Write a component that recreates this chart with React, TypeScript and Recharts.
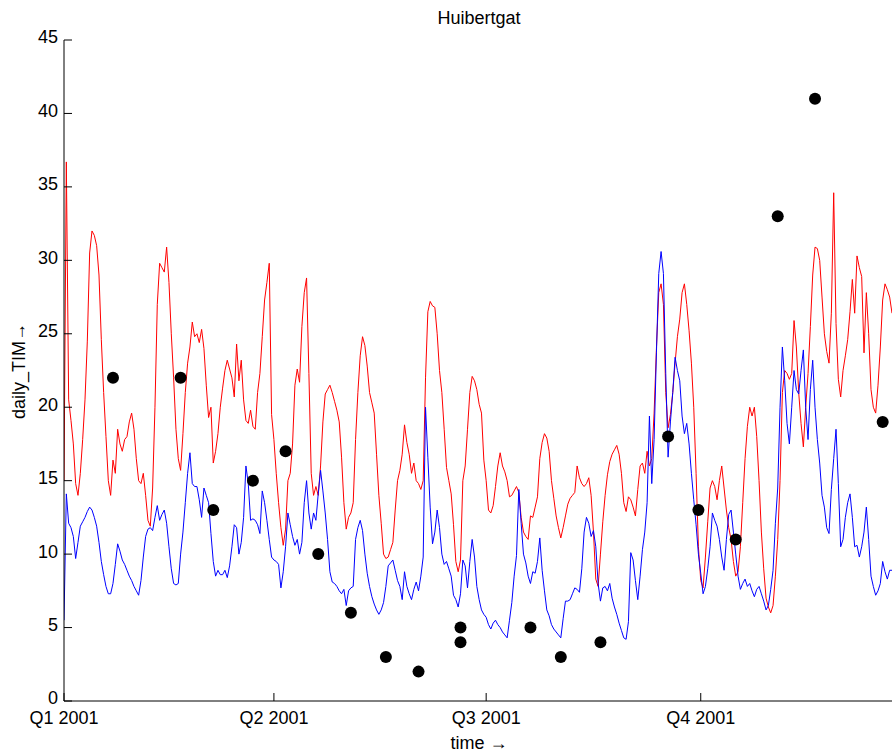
import { ComposedChart, Line, Scatter, XAxis, YAxis } from "recharts";

// daily values, index = day of 2001 (0 = 1 Jan)
const redValues = [
  15, 36.7, 20.5, 19.1, 17.5, 14.8, 14.0, 15.5, 17.8, 20.5,
  24.5, 30.5, 32.0, 31.7, 31.0, 29.0, 24.6, 21.0, 18.0, 15.0,
  14.0, 16.4, 15.5, 18.5, 17.5, 17.0, 17.8, 18.0, 19.0, 19.6,
  18.5, 16.5, 15.0, 14.8, 15.5, 14.0, 12.3, 11.9, 14.5, 20.0,
  27.0, 29.8, 29.5, 29.2, 30.9, 28.5, 25.0, 22.0, 18.5, 16.5,
  15.7, 18.2, 21.0, 23.0, 24.1, 25.8, 24.8, 25.0, 24.4, 25.3,
  24.0, 21.5, 19.3, 20.0, 16.2, 17.0, 18.2, 20.0, 21.3, 22.5,
  23.2, 22.6, 22.0, 20.7, 24.3, 21.8, 23.2, 20.5, 19.1, 18.9,
  19.8, 18.7, 18.5, 21.0, 22.3, 24.8, 27.3, 28.5, 29.8, 19.5,
  17.8, 15.5, 13.5, 11.8, 10.6, 11.7, 15.0, 15.5, 17.5, 21.5,
  22.6, 21.7, 25.5, 27.8, 28.8, 22.3, 15.5, 14.0, 14.6, 14.0,
  16.0, 19.0, 20.9, 21.2, 21.5, 21.0, 20.4, 19.8, 19.0, 16.6,
  13.5, 11.7, 12.5, 12.8, 13.5, 17.8, 21.0, 23.5, 24.8, 24.2,
  22.8, 21.0, 20.3, 19.6, 16.8, 14.0, 12.1, 10.0, 9.7, 9.8,
  10.3, 10.8, 13.0, 15.0, 15.7, 16.8, 18.8, 17.6, 16.8, 15.5,
  16.2, 15.0, 14.8, 14.4, 15.0, 22.0, 26.5, 27.2, 26.9, 26.8,
  25.0, 22.5, 21.0, 18.5, 15.9, 15.0, 14.1, 12.0, 9.5, 8.8,
  9.6, 15.0, 16.0, 18.5, 21.0, 22.1, 21.8, 21.2, 20.2, 19.6,
  16.4, 15.0, 13.0, 12.8, 13.3, 14.6, 16.0, 16.9, 16.0, 15.6,
  15.0, 13.9, 14.0, 14.3, 14.6, 14.2, 12.5, 11.5, 11.2, 11.0,
  12.6, 12.5, 13.2, 13.9, 16.5, 17.6, 18.2, 17.9, 17.0, 15.0,
  13.8, 12.6, 11.8, 11.1, 11.8, 12.6, 13.4, 13.8, 14.0, 14.2,
  16.0, 15.2, 14.8, 14.6, 14.8, 15.2, 14.0, 11.5, 8.3, 7.8,
  10.0, 12.2, 14.0, 15.4, 16.3, 16.8, 17.1, 17.4, 16.8, 15.5,
  13.5, 12.9, 13.9, 13.7, 13.2, 12.6, 14.4, 16.0, 16.2, 15.5,
  17.0, 16.0, 16.5, 19.6, 24.0, 27.8, 28.4, 27.0, 21.0, 18.6,
  19.5, 21.0, 23.0, 24.8, 26.0, 27.8, 28.4, 27.0, 25.2, 23.0,
  20.0, 15.5, 10.5, 8.2, 7.7, 9.8, 12.2, 14.5, 15.0, 14.6,
  13.7, 15.0, 16.0, 14.5, 13.0, 11.8, 11.0, 9.5, 8.5, 8.8,
  10.5, 13.5, 16.5, 18.7, 20.0, 19.4, 20.0, 18.0, 15.0, 11.5,
  9.0, 7.0, 6.4, 6.0, 6.5, 8.5, 11.0, 15.0, 21.0, 22.5,
  22.3, 21.9, 22.3, 25.9, 24.1, 21.0, 18.9, 17.3, 20.0, 22.3,
  25.5, 29.0, 30.9, 30.8, 30.0, 27.5, 25.0, 23.8, 23.0, 26.4,
  34.6, 25.7, 21.9, 20.7, 22.5, 23.5, 24.6, 26.5, 28.7, 26.4,
  30.3, 29.5, 28.9, 23.7, 27.8, 25.0, 21.2, 20.0, 19.6, 21.5,
  24.1, 27.3, 28.4, 28.0, 27.5, 26.4,
];

const blueValues = [
  5.5, 14.1, 12.1, 11.8, 11.2, 9.7, 10.8, 11.9, 12.2, 12.5,
  12.9, 13.2, 13.0, 12.5, 11.9, 10.8, 9.5, 8.6, 7.8, 7.3,
  7.3, 8.0, 9.3, 10.7, 10.2, 9.6, 9.3, 8.9, 8.5, 8.2,
  7.8, 7.5, 7.2, 8.2, 9.8, 11.2, 11.7, 11.8, 11.6, 12.5,
  13.3, 12.3, 12.7, 13.0, 12.1, 10.5, 9.0, 8.0, 7.9, 8.0,
  10.0, 11.5, 13.5, 15.5, 16.9, 14.8, 14.6, 14.6, 13.7, 12.5,
  14.5, 14.0, 13.5, 11.4, 9.5, 8.5, 8.9, 8.6, 8.6, 8.9,
  8.4, 9.2, 10.5, 12.0, 11.8, 10.0, 10.8, 12.5, 16.0, 14.8,
  12.3, 12.4, 12.3, 12.0, 11.4, 14.3, 13.5, 12.3, 11.0, 9.8,
  9.6, 9.5, 9.3, 7.7, 8.8, 10.5, 12.8, 12.0, 11.2, 10.6,
  11.0, 10.0, 10.8, 13.5, 15.0, 12.8, 11.7, 12.8, 12.3, 14.1,
  15.7, 14.3, 12.8, 11.0, 8.8, 8.1, 8.0, 7.8, 7.5, 7.3,
  7.6, 6.5, 7.5, 7.7, 7.8, 11.0, 11.8, 12.3, 11.6, 10.0,
  8.7, 7.8, 7.1, 6.6, 6.2, 5.9, 6.2, 6.7, 7.8, 9.2,
  9.4, 9.6, 8.9, 8.2, 7.8, 6.9, 8.8, 7.8, 7.3, 6.9,
  7.6, 8.1, 7.5, 8.5, 9.8, 20.0, 16.6, 13.2, 10.7, 11.5,
  13.0, 11.8, 10.0, 9.3, 9.5, 9.0, 8.5, 7.2, 6.9, 6.4,
  7.3, 9.6, 9.2, 7.7, 9.5, 11.0, 9.8, 7.8, 6.9, 6.2,
  5.9, 5.7, 5.2, 4.9, 5.3, 5.5, 5.2, 5.0, 4.7, 4.5,
  4.3, 5.5, 6.7, 8.5, 9.9, 14.4, 12.1, 10.0, 9.4, 8.5,
  8.0, 8.8, 8.7, 9.5, 11.1, 8.9, 7.5, 6.2, 5.8, 5.2,
  4.9, 4.7, 4.5, 4.3, 5.6, 6.8, 6.8, 6.9, 7.3, 7.7,
  7.6, 7.4, 9.0, 11.5, 12.5, 12.1, 11.2, 11.6, 10.5, 8.0,
  6.8, 7.7, 7.8, 7.5, 8.0, 7.0, 6.4, 5.9, 5.3, 4.8,
  4.3, 4.2, 5.4, 10.1, 9.6, 8.2, 6.9, 8.5, 10.3, 11.5,
  13.5, 19.4, 14.8, 17.8, 23.7, 29.1, 30.6, 29.1, 22.3, 16.6,
  19.0, 21.0, 23.4, 22.5, 21.8, 19.4, 18.2, 18.9, 17.5, 15.5,
  13.7, 12.0, 10.0, 8.7, 7.3, 7.8, 9.0, 10.5, 12.8, 12.3,
  11.9, 11.0, 9.8, 8.9, 11.0, 12.7, 13.0, 11.5, 10.0, 8.5,
  7.6, 8.0, 8.3, 7.8, 8.0, 7.5, 7.1, 7.6, 7.8, 7.3,
  6.8, 6.2, 6.5, 7.6, 8.9, 12.1, 14.5, 20.0, 24.1, 21.8,
  18.9, 17.5, 20.0, 22.5, 21.2, 20.9, 22.5, 23.9, 20.0, 17.8,
  21.2, 23.2, 20.0, 17.8, 16.2, 14.0, 13.2, 11.8, 11.4, 14.4,
  16.5, 18.5, 14.8, 10.5, 11.0, 12.5, 13.5, 14.1, 12.5, 10.5,
  10.6, 9.8, 10.5, 11.5, 13.2, 11.0, 8.5, 7.8, 7.2, 7.5,
  8.0, 9.5, 8.8, 8.3, 8.9, 8.9,
];

// observations (black dots)
const obsDays = [21, 50, 64, 81, 95, 109, 123, 138, 152, 170, 170, 200, 213, 230, 259, 272, 288, 306, 322, 351];
const obsValues = [22, 22, 13, 15, 17, 10, 6, 3, 2, 5, 4, 5, 3, 4, 18, 13, 11, 33, 41, 19];

const quarterDays = [0, 90, 181, 273];
const quarterLabels = ["Q1 2001", "Q2 2001", "Q3 2001", "Q4 2001"];
const yTicks = [0, 5, 10, 15, 20, 25, 30, 35, 40, 45];

const redData = redValues.map((v, i) => ({ day: i, tim: v }));
const blueData = blueValues.map((v, i) => ({ day: i, tim: v }));
const obsData = obsDays.map((d, i) => ({ day: d, tim: obsValues[i] }));

const font = '"Liberation Sans", Arial, sans-serif';
const tickStyle = { fill: "#000", fontSize: 18, fontFamily: font };

const Dot = (props: any) => <circle cx={props.cx} cy={props.cy} r={6} fill="#000" />;

export default function App() {
  return (
    <div style={{ position: "absolute", left: 0, top: 0, width: 893, height: 754, background: "#fff", fontFamily: font, color: "#000" }}>
      <ComposedChart width={893} height={754} margin={{ top: 40, right: 1, bottom: 0, left: 4 }}>
        <XAxis
          dataKey="day"
          type="number"
          domain={[0, 355]}
          ticks={quarterDays}
          tickFormatter={(d) => quarterLabels[quarterDays.indexOf(d)]}
          allowDataOverflow
          height={53}
          stroke="#000"
          tickSize={-8}
          tickMargin={18}
          tick={tickStyle}
          interval={0}
        />
        <YAxis
          type="number"
          domain={[0, 45]}
          ticks={yTicks}
          width={60}
          stroke="#000"
          tickSize={-8}
          tickMargin={14}
          tick={{ ...tickStyle, dy: -3 }}
          interval={0}
        />
        <Line data={redData} dataKey="tim" stroke="#ff0000" strokeWidth={1} dot={false} activeDot={false} isAnimationActive={false} />
        <Line data={blueData} dataKey="tim" stroke="#0000ff" strokeWidth={1} dot={false} activeDot={false} isAnimationActive={false} />
        <Scatter data={obsData} dataKey="tim" shape={Dot} isAnimationActive={false} />
      </ComposedChart>
      <div style={{ position: "absolute", left: 0, width: 958, top: 9, textAlign: "center", fontSize: 18, lineHeight: "18px" }}>
        Huibertgat
      </div>
      <div style={{ position: "absolute", left: 0, width: 958, top: 734, textAlign: "center", fontSize: 18, lineHeight: "18px" }}>
        time →
      </div>
      <div
        style={{
          position: "absolute",
          left: 19,
          top: 371,
          fontSize: 18,
          lineHeight: "18px",
          whiteSpace: "nowrap",
          transform: "translate(-50%, -50%) rotate(-90deg)",
        }}
      >
        daily_TIM→
      </div>
    </div>
  );
}
